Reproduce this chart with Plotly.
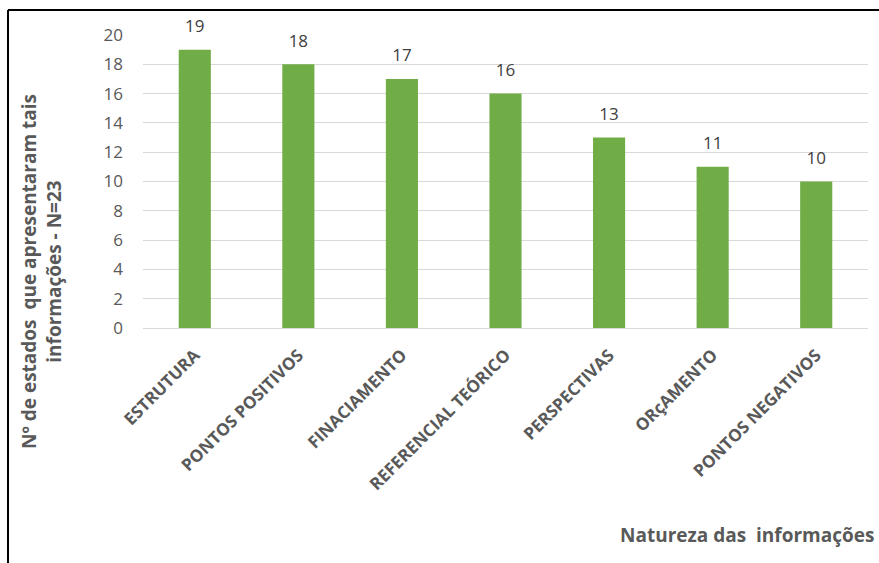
import plotly.graph_objects as go

categories = ["ESTRUTURA", "PONTOS POSITIVOS", "FINACIAMENTO", "REFERENCIAL TEÓRICO",
              "PERSPECTIVAS", "ORçAMENTO", "PONTOS NEGATIVOS"]
values = [19, 18, 17, 16, 13, 11, 10]
y_ticks = [0, 2, 4, 6, 8, 10, 12, 14, 16, 18, 20]

W, H = 879, 563
ml, mr, mt, mb = 143, 11, 35, 235
pw, ph = W - ml - mr, H - mt - mb

fig = go.Figure()
fig.add_trace(go.Bar(
    x=categories, y=values,
    marker=dict(color="#70ad47", line=dict(width=0)),
    width=0.31,
    hoverinfo="skip",
))
fig.add_trace(go.Scatter(
    x=categories, y=values,
    mode="markers+text",
    marker=dict(size=20, opacity=0),
    text=[str(v) for v in values],
    textposition="top center",
    textfont=dict(family="Open Sans", size=17, color="#404040"),
    cliponaxis=False,
))

def px_x(x):
    return (x - ml) / pw

def px_y(y):
    return 1 - (y - mt) / ph

fig.update_layout(
    width=W, height=H,
    margin=dict(l=ml, r=mr, t=mt, b=mb),
    paper_bgcolor="white", plot_bgcolor="white",
    showlegend=False,
    font=dict(family="Open Sans", color="#595959"),
    xaxis=dict(
        tickangle=-45,
        tickfont=dict(family="Open Sans", size=17, color="#595959", weight="bold"),
        showgrid=False, showline=False, ticks="", ticklabelstandoff=13,
    ),
    yaxis=dict(
        range=[0, 20], tickvals=y_ticks,
        tickfont=dict(family="Open Sans", size=17, color="#595959"),
        showgrid=True, gridcolor="#d9d9d9", gridwidth=1,
        zeroline=True, zerolinecolor="#d9d9d9", zerolinewidth=1,
        showline=False, ticks="", ticklabelstandoff=19,
    ),
    shapes=[
        dict(type="line", xref="paper", yref="paper",
             x0=px_x(8), x1=px_x(W + 5), y0=px_y(10), y1=px_y(10),
             line=dict(color="black", width=2)),
        dict(type="line", xref="paper", yref="paper",
             x0=px_x(8), x1=px_x(8), y0=px_y(10), y1=px_y(H + 5),
             line=dict(color="black", width=2)),
    ],
    annotations=[
        dict(text="Nº de estados  que apresentaram tais<br>informações - N=23",
             xref="paper", yref="paper", x=px_x(41), y=px_y(272),
             textangle=-90, showarrow=False, xanchor="center", yanchor="middle",
             font=dict(family="Open Sans", size=19, color="#595959", weight="bold")),
        dict(text="Natureza das  informações",
             xref="paper", yref="paper", x=px_x(876), y=px_y(535),
             showarrow=False, xanchor="right", yanchor="middle",
             font=dict(family="Open Sans", size=19, color="#595959", weight="bold")),
    ],
)

fig.write_html("out.html")
